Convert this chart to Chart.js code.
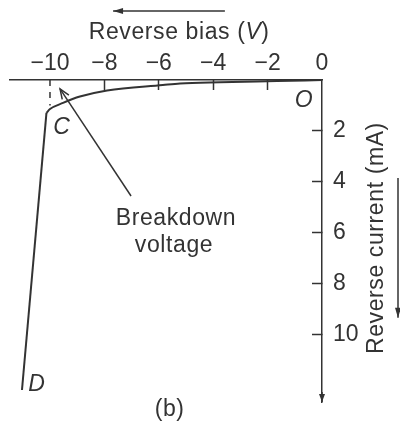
<!DOCTYPE html>
<html>
<head>
<meta charset="utf-8">
<script src="https://cdn.jsdelivr.net/npm/chart.js@4.4.1/dist/chart.umd.min.js"></script>
<style>
  html, body { margin: 0; padding: 0; background: #fff; }
  #wrap { width: 400px; height: 423px; }
</style>
</head>
<body>
<div id="wrap"><canvas id="myChart" width="400" height="423"></canvas></div>
<script>
// reverse characteristic of the diode (bias in V, current in mA)
var bias    = [0, -1.65, -3.75, -5.22, -5.85, -7.9, -8.9, -9.52, -10.0, -10.13];
var current = [0, 0.04, 0.09, 0.14, 0.2, 0.41, 0.65, 0.9, 1.14, 1.29];

// breakdown region, C to D
var bdBias    = [-10.13, -11.03];
var bdCurrent = [1.29, 12.16];

// dashed marker at the breakdown voltage
var markBias    = [-10, -10];
var markCurrent = [0, 1.0];

var xTicks = [-10, -8, -6, -4, -2, 0];
var yTicks = [2, 4, 6, 8, 10];

var ink = '#333';
var family = '"Liberation Sans", Arial, sans-serif';
var fontSize = 23;

function toPoints(xs, ys) {
    var pts = [];
    for (var i = 0; i < xs.length; i++) {
        pts.push({ x: xs[i], y: ys[i] });
    }
    return pts;
}

function arrow(ctx, x1, y1, x2, y2, len, wid, filled) {
    var a = Math.atan2(y2 - y1, x2 - x1);
    ctx.beginPath();
    ctx.moveTo(x1, y1);
    ctx.lineTo(x2, y2);
    ctx.stroke();
    var bx = x2 - len * Math.cos(a), by = y2 - len * Math.sin(a);
    var nx = -Math.sin(a) * wid / 2, ny = Math.cos(a) * wid / 2;
    ctx.beginPath();
    if (filled) {
        ctx.moveTo(x2, y2);
        ctx.lineTo(bx + nx, by + ny);
        ctx.lineTo(bx - nx, by - ny);
        ctx.closePath();
        ctx.fill();
    } else {
        ctx.moveTo(bx + nx, by + ny);
        ctx.lineTo(x2, y2);
        ctx.lineTo(bx - nx, by - ny);
        ctx.stroke();
    }
}

// axis titles, arrows and the labels O, C, D
var labelsPlugin = {
    id: 'diodeLabels',
    afterDraw: function(chart) {
        var ctx = chart.ctx;
        var xs = chart.scales.x, ys = chart.scales.y;
        var area = chart.chartArea;
        ctx.save();
        ctx.strokeStyle = ink;
        ctx.fillStyle = ink;
        ctx.lineWidth = 1.5;
        ctx.letterSpacing = '0.6px';
        ctx.textBaseline = 'alphabetic';

        // x title with italic V
        var parts = [['Reverse bias (', ''], ['V', 'italic '], [')', '']];
        var w = 0;
        parts.forEach(function(p) {
            ctx.font = p[1] + fontSize + 'px ' + family;
            w += ctx.measureText(p[0]).width;
        });
        var tx = xs.getPixelForValue(-5.25) - w / 2;
        parts.forEach(function(p) {
            ctx.font = p[1] + fontSize + 'px ' + family;
            ctx.textAlign = 'left';
            ctx.fillText(p[0], tx, 39);
            tx += ctx.measureText(p[0]).width;
        });
        arrow(ctx, xs.getPixelForValue(-3.57), 11, xs.getPixelForValue(-7.68), 11, 10, 6, true);

        // y title, reading upwards, with its arrow
        ctx.save();
        ctx.translate(377, ys.getPixelForValue(6.2));
        ctx.rotate(-Math.PI / 2);
        ctx.font = fontSize + 'px ' + family;
        ctx.textAlign = 'center';
        ctx.textBaseline = 'middle';
        ctx.fillText('Reverse current (mA)', 0, 0);
        ctx.restore();
        arrow(ctx, 398, ys.getPixelForValue(3.84), 398, ys.getPixelForValue(9.33), 10, 6, true);

        // arrowhead on the current axis
        arrow(ctx, area.right, area.bottom - 10, area.right, area.bottom, 8, 6, true);

        // point letters
        ctx.font = 'italic ' + fontSize + 'px ' + family;
        ctx.textAlign = 'center';
        ctx.textBaseline = 'middle';
        ctx.fillText('O', xs.getPixelForValue(-0.66), ys.getPixelForValue(0.82));
        ctx.fillText('C', xs.getPixelForValue(-9.56), ys.getPixelForValue(1.88));
        ctx.fillText('D', xs.getPixelForValue(-10.48), ys.getPixelForValue(11.96));

        // breakdown voltage note
        ctx.font = fontSize + 'px ' + family;
        ctx.fillText('Breakdown', xs.getPixelForValue(-5.37), ys.getPixelForValue(5.45));
        ctx.fillText('voltage', xs.getPixelForValue(-5.44), ys.getPixelForValue(6.5));
        arrow(ctx, xs.getPixelForValue(-7.02), ys.getPixelForValue(4.55),
                   xs.getPixelForValue(-9.63), ys.getPixelForValue(0.35), 10, 8, false);

        // figure caption
        ctx.fillText('(b)', xs.getPixelForValue(-5.6), area.bottom + 8);
        ctx.restore();
    }
};

var ctx = document.getElementById('myChart');
var myChart = new Chart(ctx, {
    type: 'scatter',
    data: {
        datasets: [
            {
                label: 'Reverse current',
                data: toPoints(bias, current),
                showLine: true,
                borderColor: ink,
                borderWidth: 2,
                pointRadius: 0,
                tension: 0.4,
                cubicInterpolationMode: 'monotone'
            },
            {
                label: 'Breakdown',
                data: toPoints(bdBias, bdCurrent),
                showLine: true,
                borderColor: ink,
                borderWidth: 2,
                pointRadius: 0
            },
            {
                label: 'Breakdown voltage',
                data: toPoints(markBias, markCurrent),
                showLine: true,
                borderColor: ink,
                borderWidth: 1.5,
                borderDash: [6, 6],
                pointRadius: 0
            }
        ]
    },
    options: {
        responsive: false,
        animation: false,
        clip: false,
        layout: { padding: { top: 10, left: 10, right: 0, bottom: 21 } },
        plugins: {
            legend: { display: false },
            tooltip: { enabled: false }
        },
        scales: {
            x: {
                type: 'linear',
                position: 'top',
                min: -11.47,
                max: 0,
                afterBuildTicks: function(scale) {
                    scale.ticks = xTicks.map(function(v) { return { value: v }; });
                },
                afterFit: function(scale) {
                    scale.height = 70;
                    scale.paddingLeft = 0;
                    scale.paddingRight = 0;
                },
                grid: {
                    drawOnChartArea: false,
                    tickLength: -10,
                    tickWidth: 1.5,
                    tickColor: function(c) {
                        return (c.tick && (c.tick.value === -10 || c.tick.value === 0)) ? 'rgba(0,0,0,0)' : ink;
                    }
                },
                border: { color: ink, width: 1.5 },
                ticks: {
                    padding: 13,
                    maxRotation: 0,
                    color: ink,
                    font: { family: family, size: fontSize },
                    callback: function(v) { return v < 0 ? '\u2212' + Math.abs(v) : String(v); }
                }
            },
            y: {
                type: 'linear',
                position: 'right',
                reverse: true,
                min: 0,
                max: 12.63,
                afterBuildTicks: function(scale) {
                    scale.ticks = yTicks.map(function(v) { return { value: v }; });
                },
                afterFit: function(scale) {
                    scale.width = 78;
                    scale.paddingTop = 0;
                    scale.paddingBottom = 0;
                },
                grid: {
                    drawOnChartArea: false,
                    tickLength: -10,
                    tickWidth: 1.5,
                    tickColor: ink
                },
                border: { color: ink, width: 1.5 },
                ticks: {
                    padding: 21,
                    color: ink,
                    font: { family: family, size: fontSize }
                }
            }
        }
    },
    plugins: [labelsPlugin]
});
</script>
</body>
</html>
